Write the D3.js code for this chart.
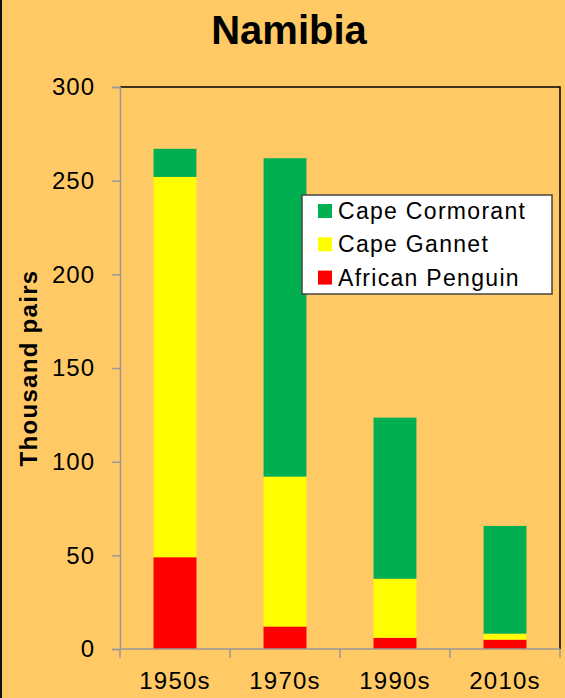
<!DOCTYPE html>
<html>
<head>
<meta charset="utf-8">
<script src="https://cdn.jsdelivr.net/npm/d3@7"></script>
<style>
  html, body { margin:0; padding:0; background:#FFCA66; }
  svg { display:block; font-family: Arial, "Liberation Sans", sans-serif; }
</style>
</head>
<body>
<svg id="chart" width="565" height="698"></svg>
<script>
// data (thousand pairs)
const decades   = ["1950s", "1970s", "1990s", "2010s"];
const penguin   = [49, 12, 6, 5];
const gannet    = [203, 80, 31.5, 3.2];
const cormorant = [15, 170, 86, 57.5];
const yTicks    = [0, 50, 100, 150, 200, 250, 300];

const seriesNames = ["African Penguin", "Cape Gannet", "Cape Cormorant"];
const seriesColor = d3.scaleOrdinal()
  .domain(seriesNames)
  .range(["#FF0000", "#FFFF00", "#00B050"]);

const svg = d3.select("#chart");
const W = 565, H = 698;
const plot = {left:120, right:560, top:87, bottom:649};

// left frame edge
svg.append("line")
  .attr("x1", 1).attr("x2", 1).attr("y1", 0).attr("y2", H)
  .attr("stroke", "#111").attr("stroke-width", 2);

// title
svg.append("text")
  .attr("x", 289).attr("y", 44)
  .attr("text-anchor", "middle")
  .style("font-size", "40px").style("font-weight", "bold")
  .text("Namibia");

const rows = decades.map((d, i) => ({
  decade: d,
  "African Penguin": penguin[i],
  "Cape Gannet": gannet[i],
  "Cape Cormorant": cormorant[i]
}));

const stacked = d3.stack().keys(seriesNames)(rows);

const x = d3.scaleBand()
  .domain(decades)
  .range([plot.left, plot.right])
  .paddingInner(0.61)
  .paddingOuter(0.305);

const y = d3.scaleLinear()
  .domain([0, 300])
  .range([plot.bottom, plot.top]);

// bars
svg.append("g")
  .selectAll("g")
  .data(stacked)
  .join("g")
  .attr("fill", d => seriesColor(d.key))
  .selectAll("rect")
  .data(d => d)
  .join("rect")
  .attr("x", d => x(d.data.decade))
  .attr("width", x.bandwidth())
  .attr("y", d => y(d[1]))
  .attr("height", d => y(d[0]) - y(d[1]));

// plot border top and right (black)
svg.append("path")
  .attr("d", `M${plot.left},${plot.top}H${plot.right}V${plot.bottom}`)
  .attr("fill", "none").attr("stroke", "#000").attr("stroke-width", 1.5);

// y axis
const yAxis = svg.append("g")
  .attr("transform", `translate(${plot.left},0)`)
  .call(d3.axisLeft(y).tickValues(yTicks).tickSize(8).tickPadding(17));
yAxis.select(".domain").attr("stroke", "#999").attr("stroke-width", 1.5);
yAxis.selectAll(".tick line").attr("stroke", "#999").attr("stroke-width", 1.5);
yAxis.selectAll(".tick text")
  .attr("fill", "#000")
  .style("font-size", "24px").style("letter-spacing", "1px")
  .style("font-family", "Arial, 'Liberation Sans', sans-serif");

// x axis with ticks on band edges
const xAxisG = svg.append("g");
xAxisG.append("line")
  .attr("x1", plot.left).attr("x2", plot.right)
  .attr("y1", plot.bottom).attr("y2", plot.bottom)
  .attr("stroke", "#999").attr("stroke-width", 1.5);

const edges = decades.map(d => x(d) - x.step() * x.paddingInner() / 2)
  .concat([plot.right]);
xAxisG.selectAll("line.tk")
  .data(edges)
  .join("line")
  .attr("class", "tk")
  .attr("x1", d => d).attr("x2", d => d)
  .attr("y1", plot.bottom).attr("y2", plot.bottom + 9)
  .attr("stroke", "#999").attr("stroke-width", 1.5);

xAxisG.selectAll("text")
  .data(decades)
  .join("text")
  .attr("x", d => x(d) + x.bandwidth() / 2)
  .attr("y", 689)
  .attr("text-anchor", "middle")
  .style("font-size", "24px").style("letter-spacing", "1.2px")
  .text(d => d);

// y axis title
svg.append("text")
  .attr("transform", "translate(37,368) rotate(-90)")
  .attr("text-anchor", "middle")
  .style("font-size", "24px").style("font-weight", "bold")
  .style("letter-spacing", "1.3px")
  .text("Thousand pairs");

// legend
const legend = svg.append("g").attr("transform", "translate(302,195)");
legend.append("rect")
  .attr("width", 250).attr("height", 99)
  .attr("fill", "#fff").attr("stroke", "#444").attr("stroke-width", 1.5);

const legendItems = seriesNames.slice().reverse();
const li = legend.selectAll("g.item")
  .data(legendItems)
  .join("g")
  .attr("class", "item")
  .attr("transform", (d, i) => `translate(16,${16 + i * 33.3})`);

li.append("rect")
  .attr("x", 0).attr("y", -7)
  .attr("width", 14).attr("height", 14)
  .attr("fill", d => seriesColor(d));

li.append("text")
  .attr("x", 20).attr("y", 8)
  .style("font-size", "23px").style("letter-spacing", "1.3px")
  .text(d => d);
</script>
</body>
</html>
